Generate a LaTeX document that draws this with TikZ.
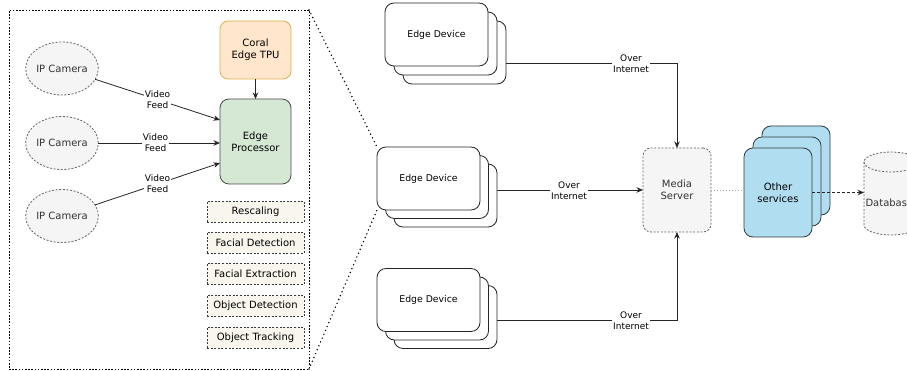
\documentclass[tikz,border=0pt]{standalone}
\usepackage{fontspec}
\setmainfont{DejaVu Sans}
\usetikzlibrary{arrows.meta,calc,shapes.geometric}
\definecolor{grayfill}{HTML}{F5F5F5}
\definecolor{graystroke}{HTML}{666666}
\definecolor{graytext}{HTML}{333333}
\definecolor{coralfill}{HTML}{FFE6CC}
\definecolor{coralstroke}{HTML}{E0B050}
\definecolor{procfill}{HTML}{D5E8D4}
\definecolor{procstroke}{HTML}{4A4A4A}
\definecolor{notefill}{HTML}{F9F7ED}
\definecolor{notestroke}{HTML}{36393D}
\definecolor{bluefill}{HTML}{B1DDF0}
\definecolor{bluestroke}{HTML}{2F3A40}
\definecolor{linkgray}{HTML}{AAAAAA}
\tikzset{
  base/.style={inner sep=0pt, outer sep=0pt, align=center},
  f10/.style={font=\fontsize{10}{12}\selectfont},
  f9/.style={font=\fontsize{9.3}{11}\selectfont},
  lbl/.style={base, fill=white, inner sep=1pt, font=\fontsize{9}{10.8}\selectfont},
  cam/.style={base, f10, ellipse, draw=graystroke, fill=grayfill, text=graytext,
    dash pattern=on 2pt off 1.6pt, line width=0.8pt, minimum width=70pt, minimum height=53pt},
  notebox/.style={base, f10, draw=notestroke, fill=notefill, dash pattern=on 2pt off 1.6pt,
    line width=0.7pt, minimum width=97pt, minimum height=21pt},
  card/.style={base, f9, draw=black!85, fill=white, rounded corners=9pt, line width=0.8pt,
    minimum width=103pt, minimum height=63pt},
  bluecard/.style={base, f10, draw=bluestroke, fill=bluefill, rounded corners=9pt, line width=0.8pt,
    minimum width=68pt, minimum height=89pt},
  arr/.style={draw=black!85, line width=0.8pt, -{Stealth[length=6.5pt,width=5.5pt]}},
  dotline/.style={draw=black, line width=1.6pt, line cap=round, dash pattern=on 0pt off 4.2pt}
}
\begin{document}
\begin{tikzpicture}[x=1pt,y=-1pt]
\useasboundingbox (0,0) rectangle (907,371);
\clip (0,0) rectangle (907,371);
\fill[white] (0,0) rectangle (907,371);

% big dotted container
\node[base, draw=black, dash pattern=on 1.6pt off 1.6pt, line width=0.8pt,
  minimum width=300pt, minimum height=359pt] (bb) at (159,189.5) {};

% left part
\node[base, f10, draw=coralstroke, fill=coralfill, rounded corners=8pt, line width=0.8pt,
  minimum width=71pt, minimum height=58pt] (tpu) at (255.5,50) {Coral\\Edge TPU};
\node[base, f10, draw=procstroke, fill=procfill, rounded corners=9pt, line width=0.8pt,
  minimum width=71pt, minimum height=85pt] (proc) at (255.5,141.5) {Edge\\Processor};
\node[cam] (cam1) at (62,68.5) {IP Camera};
\node[cam] (cam2) at (62,143) {IP Camera};
\node[cam] (cam3) at (62,216) {IP Camera};

\draw[arr] (tpu) -- (proc);
\draw[arr] (cam1) -- ($(proc.west)+(0,-21.5)$) node[lbl, pos=0.5] (v1) {Video\\Feed};
\draw[arr] (cam2) -- (proc.west |- cam2) node[lbl, pos=0.47] (v2) {Video\\Feed};
\draw[arr] (cam3) -- ($(proc.west)+(0,21.5)$) node[lbl, pos=0.5] (v3) {Video\\Feed};

\node[notebox] (n1) at (255.5,211.5) {Rescaling};
\node[notebox] (n2) at (255.5,242.5) {Facial Detection};
\node[notebox] (n3) at (255.5,274) {Facial Extraction};
\node[notebox] (n4) at (255.5,306) {Object Detection};
\node[notebox] (n5) at (255.5,337.5) {Object Tracking};

% edge devices
\node[card] (d1c) at (454.5,52.5) {};
\node[card] (d1b) at (445.5,43.5) {};
\node[card] (d1a) at (436.5,34.5) {Edge Device};

\node[card] (d2c) at (445.5,195.5) {};
\node[card] (d2b) at (437,187) {};
\node[card] (d2a) at (428.5,178.5) {Edge Device};

\node[card] (d3c) at (445.5,317) {};
\node[card] (d3b) at (437,308.5) {};
\node[card] (d3a) at (428.5,300) {Edge Device};

% zoom lines
\draw[dotline] (bb.north east) -- (d2a.north west);
\draw[dotline] (bb.south east) -- (d2a.south west);

% media server
\node[base, f10, draw=graystroke, fill=grayfill, text=graytext, rounded corners=8pt,
  dash pattern=on 2pt off 1.6pt, line width=0.8pt, minimum width=68pt, minimum height=84pt]
  (ms) at (677,190) {Media\\Server};

\draw[arr] ($(d1c.east)+(0,10.5)$) -| (ms.north);
\draw[arr] (d2c.east |- ms.west) -- (ms.west);
\draw[arr] ($(d3c.east)+(0,3)$) -| (ms.south);
\node[lbl] (o1) at (631,64) {Over\\Internet};
\node[lbl] (o2) at (569,190.5) {Over\\Internet};
\node[lbl] (o3) at (631,321) {Over\\Internet};

% other services
\node[bluecard] (os3) at (796,170.5) {};
\node[bluecard] (os2) at (787,181.5) {};
\node[bluecard] (os1) at (778,192.5) {Other\\services};

\draw[draw=linkgray, line width=0.8pt, dash pattern=on 1.2pt off 1.8pt] (ms.east) -- (os1.west |- ms.east);

% database
\node[base, minimum width=54pt, minimum height=83pt] (db) at (891,193.5) {};
\filldraw[draw=graystroke, fill=grayfill, line width=0.8pt, dash pattern=on 2pt off 1.6pt]
  (db.north west) ++(0,10) -- ($(db.south west)+(0,-10)$)
  arc[start angle=180, end angle=360, x radius=27pt, y radius=10pt]
  -- ($(db.north east)+(0,10)$)
  arc[start angle=0, end angle=180, x radius=27pt, y radius=10pt] -- cycle;
\draw[draw=graystroke, line width=0.8pt, dash pattern=on 2pt off 1.6pt]
  ($(db.north west)+(0,10)$) arc[start angle=180, end angle=360, x radius=27pt, y radius=10pt];
\node[base, f10, text=graytext, anchor=west] (dbt) at (865.5,203) {Database};

\draw[arr, dash pattern=on 3pt off 2pt] (os1.east) -- (db.west |- os1.east);
\end{tikzpicture}
\end{document}
